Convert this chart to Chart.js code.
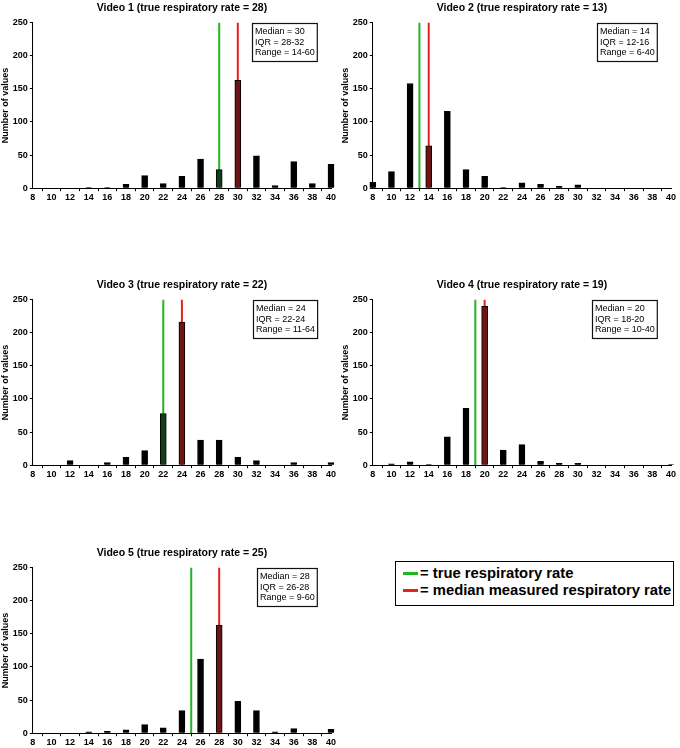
<!DOCTYPE html>
<html>
<head>
<meta charset="utf-8">
<script src="https://cdn.jsdelivr.net/npm/chart.js@4.4.0/dist/chart.umd.min.js"></script>
<style>
  html, body { margin: 0; padding: 0; background: #fff; overflow: hidden; }
  body { width: 680px; height: 748px; position: relative; font-family: "Liberation Sans", Arial, sans-serif; }
  canvas { position: absolute; }
  #legend {
    position: absolute; left: 395px; top: 561px; width: 277px; height: 40px;
    border: 1.5px solid #000; font-weight: bold; font-size: 14.8px; line-height: 17px;
    padding-top: 3px; box-sizing: content-box;
  }
  #legend div { white-space: nowrap; padding-left: 7px; }
  #legend span { display: inline-block; width: 15px; height: 3px; vertical-align: middle; margin-right: 2px; position: relative; top: -1px; }
</style>
</head>
<body>
<canvas id="video1" width="340" height="204" style="left:0px;top:0px"></canvas>
<canvas id="video2" width="340" height="204" style="left:340px;top:0px"></canvas>
<canvas id="video3" width="340" height="204" style="left:0px;top:277px"></canvas>
<canvas id="video4" width="340" height="204" style="left:340px;top:277px"></canvas>
<canvas id="video5" width="340" height="204" style="left:0px;top:545px"></canvas>
<div id="legend">
  <div><span style="background:#22b522"></span>= true respiratory rate</div>
  <div><span style="background:#e8201e"></span>= median measured respiratory rate</div>
</div>
<script>
// measured respiratory rate bins (breaths/min)
const rates = [8, 10, 12, 14, 16, 18, 20, 22, 24, 26, 28, 30, 32, 34, 36, 38, 40];

// number of values per bin, one array per video
const video1Counts = [0, 0, 0, 1, 1, 6, 19, 7, 18, 44, 28, 163, 49, 4, 40, 7, 36];
const video2Counts = [9, 25, 158, 64, 116, 28, 18, 1, 8, 6, 3, 5, 0, 0, 0, 0, 0];
const video3Counts = [0, 0, 7, 0, 4, 12, 22, 78, 216, 38, 38, 12, 7, 0, 4, 0, 4];
const video4Counts = [0, 2, 5, 1, 43, 86, 240, 23, 31, 6, 3, 3, 0, 0, 0, 0, 1];
const video5Counts = [0, 0, 0, 2, 3, 5, 13, 8, 34, 112, 163, 48, 34, 2, 7, 0, 6];

const trueRates = [28, 13, 22, 19, 25];
const medians = [30, 14, 24, 20, 28];
const iqrs = ['28-32', '12-16', '22-24', '18-20', '26-28'];
const ranges = ['14-60', '6-40', '11-64', '10-40', '9-60'];

const yTicks = [0, 50, 100, 150, 200, 250];

const FONT = '"Liberation Sans", Arial, sans-serif';
const GREEN = '#22b522';
const RED = '#e8201e';

// little boxed text with median / IQR / range, top right of the plot area
const statsBox = {
  id: 'statsBox',
  afterDraw(chart, args, opts) {
    const { ctx, chartArea } = chart;
    ctx.save();
    ctx.font = '9px ' + FONT;
    const w = Math.max(...opts.lines.map(l => ctx.measureText(l).width)) + 5;
    const h = 38;
    const x = Math.round(chartArea.right - 14 - w);
    const y = Math.round(chartArea.top);
    ctx.fillStyle = '#fff';
    ctx.fillRect(x, y, w, h);
    ctx.strokeStyle = '#111';
    ctx.lineWidth = 1.2;
    ctx.strokeRect(x + 0.5, y + 0.5, w, h);
    ctx.fillStyle = '#000';
    ctx.textBaseline = 'middle';
    opts.lines.forEach((l, i) => ctx.fillText(l, x + 3, y + 9 + i * 10.5));
    ctx.restore();
  }
};

function makeChart(id, idx, counts) {
  const median = medians[idx];
  const truth = trueRates[idx];
  const colors = rates.map(r => r === median ? '#6e1414' : (r === truth ? '#123d18' : '#000'));

  new Chart(document.getElementById(id), {
    type: 'bar',
    data: {
      datasets: [{
        type: 'bar',
        data: rates.map((r, i) => ({ x: r, y: counts[i] })),
        backgroundColor: colors,
        borderColor: '#000',
        borderWidth: 1,
        barThickness: 6,
        clip: false,
        order: 0
      }, {
        type: 'line',
        data: [{ x: truth, y: 0 }, { x: truth, y: 250 }],
        borderColor: GREEN,
        borderWidth: 2,
        pointRadius: 0,
        order: 1
      }, {
        type: 'line',
        data: [{ x: median, y: 0 }, { x: median, y: 250 }],
        borderColor: RED,
        borderWidth: 2,
        pointRadius: 0,
        order: 1
      }]
    },
    options: {
      responsive: false,
      animation: false,
      events: [],
      layout: { padding: { left: 0, right: 9, top: 0, bottom: 0 } },
      scales: {
        x: {
          type: 'linear',
          min: 8,
          max: 40,
          offset: false,
          grid: { drawOnChartArea: false, color: '#000', tickLength: 3 },
          border: { color: '#000', width: 1 },
          ticks: {
            stepSize: 2,
            color: '#000',
            padding: 1,
            maxRotation: 0,
            autoSkip: false,
            font: { family: FONT, size: 9, weight: 'bold' }
          }
        },
        y: {
          min: 0,
          max: 250,
          afterBuildTicks: axis => { axis.ticks = yTicks.map(v => ({ value: v })); },
          grid: { drawOnChartArea: false, color: '#000', tickLength: 3 },
          border: { color: '#000', width: 1 },
          ticks: {
            color: '#000',
            padding: 2,
            font: { family: FONT, size: 9, weight: 'bold' }
          },
          title: {
            display: true,
            text: 'Number of values',
            color: '#000',
            padding: 0,
            font: { family: FONT, size: 9, weight: 'bold' }
          }
        }
      },
      plugins: {
        legend: { display: false },
        tooltip: { enabled: false },
        title: {
          display: true,
          fullSize: false,
          text: 'Video ' + (idx + 1) + ' (true respiratory rate = ' + truth + ')',
          color: '#000',
          padding: { top: 2, bottom: 8 },
          font: { family: FONT, size: 10.5, weight: 'bold' }
        },
        statsBox: {
          lines: ['Median = ' + median, 'IQR = ' + iqrs[idx], 'Range = ' + ranges[idx]]
        }
      }
    },
    plugins: [statsBox]
  });
}

window.onload = () => {
  makeChart('video1', 0, video1Counts);
  makeChart('video2', 1, video2Counts);
  makeChart('video3', 2, video3Counts);
  makeChart('video4', 3, video4Counts);
  makeChart('video5', 4, video5Counts);
};
</script>
</body>
</html>
